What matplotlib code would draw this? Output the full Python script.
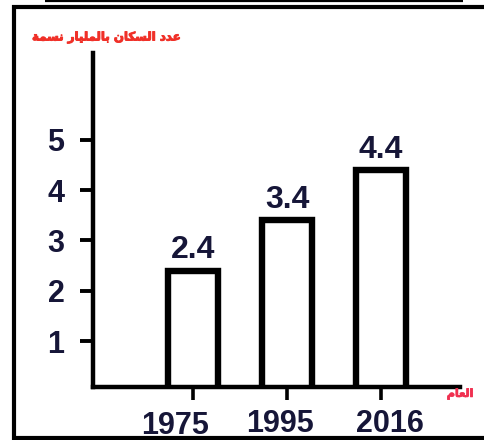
import matplotlib
matplotlib.use("Agg")
import matplotlib.pyplot as plt
import matplotlib.transforms as mtrans
import matplotlib.patheffects as pe
from matplotlib.lines import Line2D

# ---- data ----
years = ["1975", "1995", "2016"]
population = [2.4, 3.4, 4.4]
value_labels = ["2.4", "3.4", "4.4"]
y_ticks = [1, 2, 3, 4, 5]
y_title = "عدد السكان بالمليار نسمة"
x_title = "العام"

# ---- minimal Arabic shaping (matplotlib has no complex text layout) ----
_FORMS = {
    "ا": ("\uFE8D", "\uFE8E", None, None),
    "ب": ("\uFE8F", "\uFE90", "\uFE91", "\uFE92"),
    "ة": ("\uFE93", "\uFE94", None, None),
    "د": ("\uFEA9", "\uFEAA", None, None),
    "ر": ("\uFEAD", "\uFEAE", None, None),
    "س": ("\uFEB1", "\uFEB2", "\uFEB3", "\uFEB4"),
    "ع": ("\uFEC9", "\uFECA", "\uFECB", "\uFECC"),
    "ك": ("\uFED9", "\uFEDA", "\uFEDB", "\uFEDC"),
    "ل": ("\uFEDD", "\uFEDE", "\uFEDF", "\uFEE0"),
    "م": ("\uFEE1", "\uFEE2", "\uFEE3", "\uFEE4"),
    "ن": ("\uFEE5", "\uFEE6", "\uFEE7", "\uFEE8"),
    "ي": ("\uFEF1", "\uFEF2", "\uFEF3", "\uFEF4"),
}
_RIGHT_ONLY = set("اةدر")


def shape_arabic(s):
    out = []
    for i, c in enumerate(s):
        if c not in _FORMS:
            out.append(c)
            continue
        prev = s[i - 1] if i > 0 else None
        nxt = s[i + 1] if i + 1 < len(s) else None
        jp = prev in _FORMS and prev not in _RIGHT_ONLY
        jn = c not in _RIGHT_ONLY and nxt in _FORMS
        iso, fin, ini, med = _FORMS[c]
        if jp and jn:
            out.append(med)
        elif jp:
            out.append(fin)
        elif jn:
            out.append(ini)
        else:
            out.append(iso)
    return "".join(reversed(out))


W, H = 484, 440
fig = plt.figure(figsize=(W / 100, H / 100), dpi=100)
fig.patch.set_facecolor("white")

# axes placement in pixels
ax_left, ax_right, ax_top, ax_bottom = 93, 460, 53, 387
ax = fig.add_axes([ax_left / W, 1 - ax_bottom / H,
                   (ax_right - ax_left) / W, (ax_bottom - ax_top) / H])

txt_color = "#161638"
x = list(range(len(years)))
ax.bar(x, population, width=0.53, facecolor="white", edgecolor="black",
       linewidth=4.6, zorder=2)

for xi, v, lab in zip(x, population, value_labels):
    ax.annotate(lab, (xi, v), xytext=(0, 9), textcoords="offset points",
                ha="center", va="baseline", fontsize=23, fontweight="bold",
                color=txt_color, family="Liberation Sans")

ax.set_xlim(-1.064, 2.84)
ax.set_ylim(0.085, 6.73)
ax.set_xticks(x)
ax.set_xticklabels(years)
ax.set_yticks(y_ticks)
ax.set_yticklabels([str(t) for t in y_ticks])

for s in ("top", "right"):
    ax.spines[s].set_visible(False)
for s in ("left", "bottom"):
    ax.spines[s].set_linewidth(3.2)
    ax.spines[s].set_color("black")

ax.tick_params(axis="x", direction="out", length=9.5, width=2.6, pad=6,
               labelsize=22, labelcolor=txt_color)
ax.tick_params(axis="y", direction="out", length=9.5, width=2.8, pad=11,
               labelsize=22, labelcolor=txt_color)
for lbl in ax.get_xticklabels() + ax.get_yticklabels():
    lbl.set_fontweight("bold")
    lbl.set_family("Liberation Sans")

# hand-placed look of the year labels (pixel nudges)
nudges = [(-18, -2), (-7, 0), (9, 0)]
for lbl, (dx, dy) in zip(ax.get_xticklabels(), nudges):
    lbl.set_transform(lbl.get_transform() +
                      mtrans.ScaledTranslation(dx / 100, dy / 100,
                                               fig.dpi_scale_trans))

# Arabic titles
thick = [pe.withStroke(linewidth=0.7, foreground="#f03028")]
fig.text(106 / W, 1 - 37 / H, shape_arabic(y_title), ha="center", va="center",
         fontsize=8.5, fontweight="bold", color="#f03028", family="DejaVu Sans",
         path_effects=thick)
fig.text(460 / W, 1 - 394 / H, shape_arabic(x_title), ha="center", va="center",
         fontsize=8, fontweight="bold", color="#f03050", family="DejaVu Sans",
         path_effects=[pe.withStroke(linewidth=0.6, foreground="#f03050")])


# page frame (decoration)
def fline(x0, y0, x1, y1, lw):
    fig.add_artist(Line2D([x0 / W, x1 / W], [1 - y0 / H, 1 - y1 / H],
                          transform=fig.transFigure, color="black",
                          linewidth=lw, solid_capstyle="butt"))


fline(45, 1, 463, 1, 1.6)
fline(12, 7, 484, 7, 3.0)
fline(14, 5, 14, 440, 3.0)
fline(12, 438, 484, 438, 3.0)

fig.savefig("out.png", dpi=100)
